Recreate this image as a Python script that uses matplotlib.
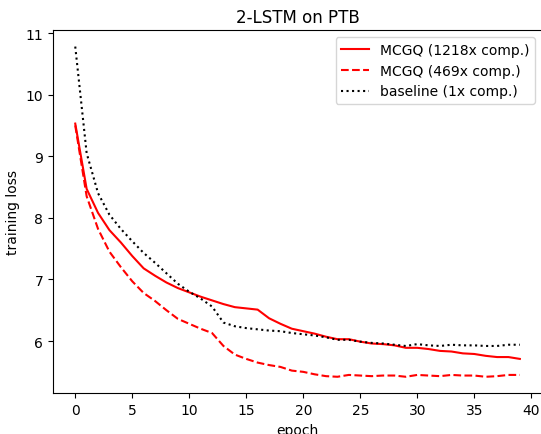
import matplotlib
matplotlib.use("Agg")
import matplotlib.pyplot as plt
import numpy as np

epochs = list(range(40))
mcgq_1218 = [9.53, 8.47, 8.08, 7.8, 7.6, 7.38, 7.18, 7.06, 6.95, 6.86,
             6.79, 6.72, 6.66, 6.6, 6.55, 6.53, 6.51, 6.37, 6.28, 6.2,
             6.16, 6.12, 6.07, 6.03, 6.03, 5.99, 5.96, 5.95, 5.93, 5.89,
             5.89, 5.87, 5.84, 5.83, 5.8, 5.79, 5.76, 5.74, 5.74, 5.71]
mcgq_469 = [9.5, 8.35, 7.82, 7.45, 7.2, 6.97, 6.78, 6.65, 6.5, 6.36,
            6.28, 6.2, 6.13, 5.92, 5.78, 5.71, 5.65, 5.61, 5.58, 5.52,
            5.5, 5.46, 5.43, 5.42, 5.45, 5.44, 5.43, 5.44, 5.44, 5.42,
            5.45, 5.44, 5.43, 5.45, 5.44, 5.44, 5.42, 5.43, 5.45, 5.45]
baseline = [10.78, 9.05, 8.4, 8.05, 7.82, 7.62, 7.43, 7.27, 7.1, 6.93,
            6.8, 6.69, 6.56, 6.3, 6.24, 6.21, 6.19, 6.17, 6.16, 6.13,
            6.11, 6.09, 6.06, 6.02, 6.02, 5.99, 5.97, 5.96, 5.94, 5.92,
            5.95, 5.93, 5.92, 5.94, 5.93, 5.93, 5.92, 5.92, 5.94, 5.94]
labels = ["MCGQ (1218x comp.)", "MCGQ (469x comp.)", "baseline (1x comp.)"]

fig = plt.figure(figsize=(5.41, 4.35), dpi=100)
ax = fig.add_axes([0.098, 0.0936, 0.904, 0.835])
ax.plot(epochs, mcgq_1218, color="red", linestyle="-", label=labels[0])
ax.plot(epochs, mcgq_469, color="red", linestyle="--", label=labels[1])
ax.plot(epochs, baseline, color="black", linestyle=":", label=labels[2])
ax.set_title("2-LSTM on PTB")
ax.set_xlabel("epoch")
ax.set_ylabel("training loss")
ax.set_xticks(range(0, 41, 5))
ax.legend(loc="upper right")
fig.savefig("out.png", dpi=100)
